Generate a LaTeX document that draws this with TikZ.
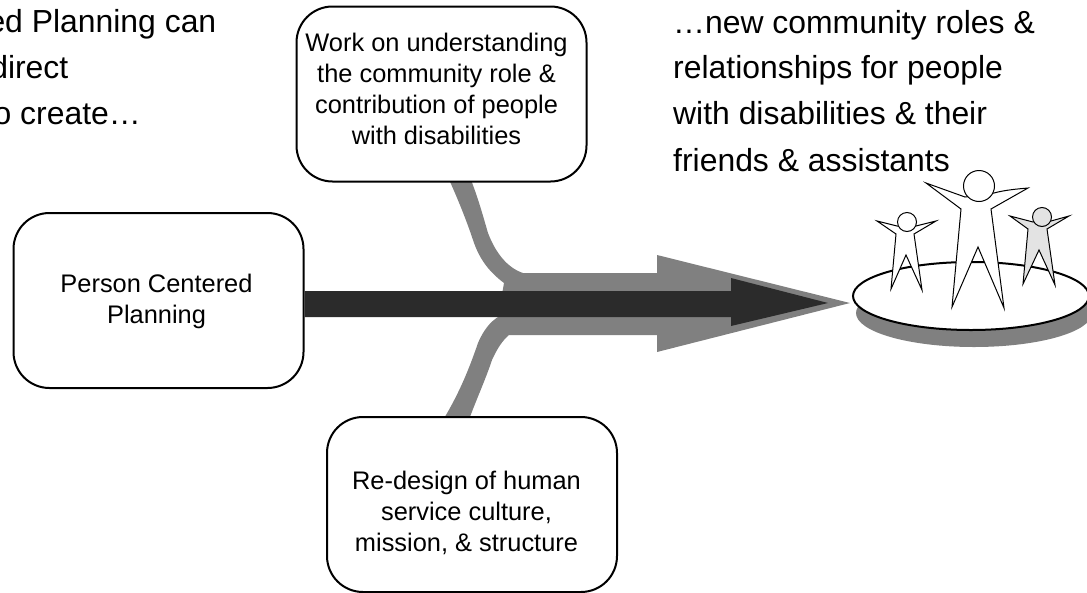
\documentclass[tikz,border=0pt]{standalone}
\usepackage{fontspec}
\setmainfont{Liberation Sans}
\tikzset{
  box/.style={draw=black,line width=2pt,fill=white,rounded corners=36pt,minimum width=290pt,minimum height=175pt,inner sep=0pt},
  boxtext/.style={inner sep=0pt,align=center,font=\fontsize{25.4}{31}\selectfont},
  bigtext/.style={anchor=base west,inner sep=0pt,font=\fontsize{31.9}{36}\selectfont},
  bigtextr/.style={anchor=base east,inner sep=0pt,font=\fontsize{31.9}{36}\selectfont},
  figure/.style={draw=black,line width=1pt,line join=miter,fill=#1},
  greyflow/.style={fill=black!50!white},
  darkflow/.style={fill=black!83!white},
}
\begin{document}
\begin{tikzpicture}[x=1pt,y=-1pt]
\useasboundingbox (0,0) rectangle (1087,592);
\clip (0,0) rectangle (1087,592);
% boxes positions
\coordinate (pcpc) at (158.5,300.5);
\coordinate (topc) at (441.5,94);
\coordinate (botc) at (472,504.5);
% grey arrow
\fill[greyflow] (447,175) -- (469,175)
  .. controls (478,197) and (483,216) .. (488,233)
  .. controls (496,254) and (508,268) .. (523,273)
  -- (657,273) -- (657,255) -- (850,303) -- (657,352) -- (657,335) -- (509,335)
  .. controls (502,341) and (497,349) .. (492,360)
  .. controls (485,381) and (476,400) .. (467,425)
  -- (440,425)
  .. controls (458,396) and (468,372) .. (478,343)
  .. controls (483,331) and (490,322) .. (498,317)
  -- (504,283)
  .. controls (488,271) and (479,258) .. (473,240)
  .. controls (466,219) and (457,197) .. (447,175) -- cycle;
% boxes
\node[box] (top) at (topc) {};
\node[box] (pcp) at (pcpc) {};
\node[box] (bot) at (botc) {};
\node[boxtext] (toptext) at ([xshift=-5pt,yshift=5pt]top.center) {Work on understanding\\the community role \&\\contribution of people\\with disabilities};
\node[boxtext] (pcptext) at ([xshift=-2pt,yshift=-1pt]pcp.center) {Person Centered\\Planning};
\node[boxtext] (bottext) at ([xshift=-5.5pt,yshift=-8pt]bot.center) {Re-design of human\\service culture,\\mission, \& structure};
% dark arrow
\fill[darkflow] (pcp.east) ++(0,-9.5) -- (731,291) -- (731,278) -- (828,303) -- (731,326) -- (731,317) -- (pcp.east |- 0,317) -- cycle;
% platform
\fill[black!50!white] (974,313) ellipse [x radius=118,y radius=34];
\draw[line width=2pt,fill=white] (971,296) ellipse [x radius=118,y radius=34];
% figures
\draw[figure=white] (926,183) -- (965,197) -- (994,193) .. controls (1005,190) and (1017,189) .. (1028,188) -- (991,209) -- (1004,308) -- (978,247) -- (952,307) -- (961,209) -- cycle;
\draw[figure=white] (979,186) circle [radius=15.5];
\draw[figure=white] (877,221) -- (897,226) -- (916,226) -- (936,221) -- (914,234) -- (922,290) -- (906,255) -- (891,289) -- (896,234) -- cycle;
\draw[figure=white] (907,222) circle [radius=9.5];
\draw[figure=black!11!white] (1010,216) -- (1033,222) -- (1051,221) -- (1069,216) -- (1047,229) -- (1055,285) -- (1039,250) -- (1023,284) -- (1028,229) -- cycle;
\draw[figure=black!11!white] (1042,217) circle [radius=9.5];
% text
\node[bigtextr] (l1) at (216.5,32) {ed Planning can};
\node[bigtextr] (l2) at (68.5,78) {direct};
\node[bigtextr] (l3) at (141,124) {o create…};
\node[bigtext] (r1) at (673,33) {…new community roles \&};
\node[bigtext] (r2) at (673,78) {relationships for people};
\node[bigtext] (r3) at (673,124) {with disabilities \& their};
\node[bigtext] (r4) at (673,171) {friends \& assistants};
\end{tikzpicture}
\end{document}
